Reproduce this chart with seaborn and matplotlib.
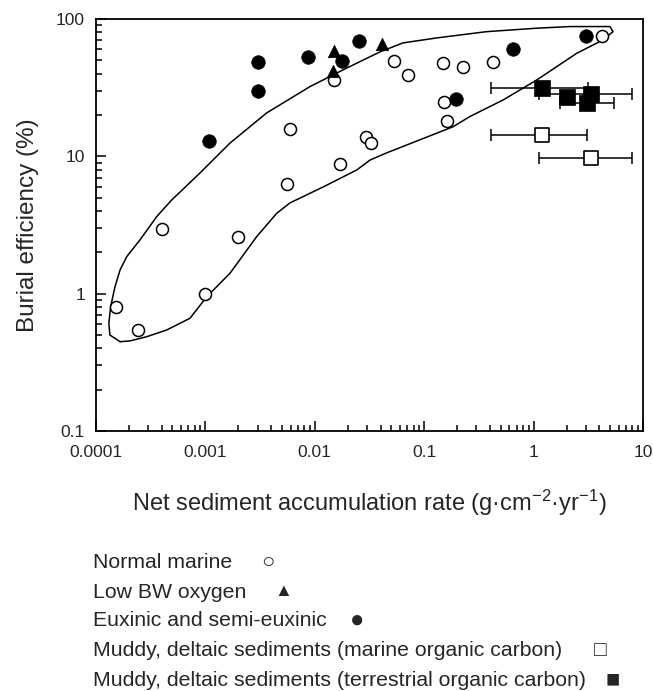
import numpy as np
import pandas as pd
import matplotlib
matplotlib.use("Agg")
import matplotlib.pyplot as plt
from matplotlib.ticker import LogLocator, FixedLocator, FixedFormatter, NullFormatter
import seaborn as sns

# -----------------------------
# data
# -----------------------------
normal_x = [1.52e-4, 2.4e-4, 4.0e-4, 0.00099, 0.002, 0.0059, 0.00557, 0.0151, 0.0171,
            0.0294, 0.0325, 0.053, 0.0706, 0.149, 0.152, 0.1615, 0.225, 0.426, 4.19]
normal_y = [0.80, 0.54, 2.97, 0.99, 2.58, 15.8, 6.3, 35.8, 8.8,
            13.9, 12.6, 49.8, 38.8, 47.6, 25.0, 18.0, 44.8, 49.0, 75.3]

lowbw_x = [0.0149, 0.0147, 0.041]
lowbw_y = [58.9, 41.7, 65.5]

euxinic_x = [0.00108, 0.00303, 0.00303, 0.00873, 0.0178, 0.0252, 0.196, 0.649, 3.01]
euxinic_y = [12.9, 48.7, 30.1, 52.7, 49.8, 69.7, 26.1, 60.3, 75.3]

# muddy deltaic, marine organic carbon (open squares) with x ranges
delta_mar_x = [1.19, 3.33]
delta_mar_y = [14.2, 9.7]
delta_mar_lo = [0.41, 1.12]
delta_mar_hi = [3.10, 7.98]

# muddy deltaic, terrestrial organic carbon (solid squares); nan = no range drawn
delta_ter_x = [1.20, 2.01, 3.33, 3.05]
delta_ter_y = [31.3, 27.2, 28.5, 24.5]
delta_ter_lo = [0.41, np.nan, 1.12, 1.74]
delta_ter_hi = [3.12, np.nan, 7.98, 5.43]

# envelope around normal marine sediments (closed outline)
env_x = [1.66e-4, 1.34e-4, 1.31e-4, 1.36e-4, 1.49e-4, 1.66e-4, 1.91e-4, 2.52e-4, 3.59e-4,
         4.92e-4, 8.93e-4, 1.68e-3, 3.63e-3, 9.04e-3, 0.0181, 0.0394, 0.064, 0.130, 0.373,
         1.07, 2.15, 4.99, 5.32, 4.31, 2.48, 1.07, 0.525, 0.262, 0.183, 0.0915, 0.0454,
         0.032, 0.0242, 0.0119, 5.93e-3, 4.49e-3, 2.94e-3, 1.68e-3, 1.03e-3, 7.23e-4,
         4.43e-4, 2.91e-4, 2.05e-4]
env_y = [0.447, 0.50, 0.61, 0.80, 1.12, 1.49, 1.86, 2.46, 3.64,
         4.81, 7.57, 12.5, 20.7, 32.2, 42.6, 57.6, 67.0, 72.8, 80.9,
         85.7, 88.1, 88.1, 80.9, 70.4, 56.3, 36.0, 25.7, 19.5, 16.4, 13.2, 10.6,
         9.4, 7.96, 5.98, 4.58, 3.85, 2.60, 1.41, 0.95, 0.662,
         0.544, 0.486, 0.453]

x_ticks = [0.0001, 0.001, 0.01, 0.1, 1, 10]
x_tick_labels = ["0.0001", "0.001", "0.01", "0.1", "1", "10"]
y_ticks = [0.1, 1, 10, 100]
y_tick_labels = ["0.1", "1", "10", "100"]

legend_labels = [
    "Normal marine",
    "Low BW oxygen",
    "Euxinic and semi-euxinic",
    "Muddy, deltaic sediments (marine organic carbon)",
    "Muddy, deltaic sediments (terrestrial organic carbon)",
]
legend_symbols = ["\u25cb", "\u25b2", "\u25cf", "\u25a1", "\u25a0"]


# -----------------------------
# style
# -----------------------------
sns.set_style("white")
plt.rcParams["font.family"] = ["Liberation Sans", "DejaVu Sans"]
plt.rcParams["mathtext.fontset"] = "custom"
plt.rcParams["mathtext.rm"] = "Liberation Sans"
plt.rcParams["mathtext.it"] = "Liberation Sans"
plt.rcParams["axes.edgecolor"] = "black"
plt.rcParams["axes.linewidth"] = 1.3

fig = plt.figure(figsize=(6.53, 6.91), dpi=100)
ax = fig.add_axes([96 / 653, 1 - 431 / 691, (643 - 96) / 653, (431 - 19) / 691])

# envelope
ax.plot(env_x + env_x[:1], env_y + env_y[:1], color="black", lw=1.1, zorder=1)

pts = pd.concat([
    pd.DataFrame({"x": normal_x, "y": normal_y, "group": "normal"}),
    pd.DataFrame({"x": lowbw_x, "y": lowbw_y, "group": "lowbw"}),
    pd.DataFrame({"x": euxinic_x, "y": euxinic_y, "group": "euxinic"}),
], ignore_index=True)

sns.scatterplot(data=pts[pts.group == "normal"], x="x", y="y", marker="o", s=75,
                facecolor="white", edgecolor="black", linewidth=1.1, ax=ax, zorder=3)
sns.scatterplot(data=pts[pts.group == "lowbw"], x="x", y="y", marker="^", s=80,
                color="black", edgecolor="black", linewidth=0.5, ax=ax, zorder=3)
sns.scatterplot(data=pts[pts.group == "euxinic"], x="x", y="y", marker="o", s=95,
                color="black", edgecolor="black", linewidth=0.5, ax=ax, zorder=3)

# error bars for the deltaic samples
for xs, ys, lo, hi in [(delta_mar_x, delta_mar_y, delta_mar_lo, delta_mar_hi),
                       (delta_ter_x, delta_ter_y, delta_ter_lo, delta_ter_hi)]:
    xs, ys, lo, hi = map(np.asarray, (xs, ys, lo, hi))
    ok = ~np.isnan(lo)
    ax.errorbar(xs[ok], ys[ok], xerr=[xs[ok] - lo[ok], hi[ok] - xs[ok]], fmt="none",
                ecolor="black", elinewidth=1.1, capsize=4, capthick=1.1, zorder=2)

sns.scatterplot(x=delta_mar_x, y=delta_mar_y, marker="s", s=110, facecolor="white",
                edgecolor="black", linewidth=1.2, ax=ax, zorder=4)
sns.scatterplot(x=delta_ter_x, y=delta_ter_y, marker="s", s=120, color="black",
                edgecolor="black", linewidth=0.5, ax=ax, zorder=4)

ax.set_xscale("log")
ax.set_yscale("log")
ax.set_xlim(1e-4, 10)
ax.set_ylim(0.1, 100)

ax.xaxis.set_major_locator(FixedLocator(x_ticks))
ax.xaxis.set_major_formatter(FixedFormatter(x_tick_labels))
ax.yaxis.set_major_locator(FixedLocator(y_ticks))
ax.yaxis.set_major_formatter(FixedFormatter(y_tick_labels))
ax.xaxis.set_minor_locator(LogLocator(base=10, subs=np.arange(2, 10)))
ax.yaxis.set_minor_locator(LogLocator(base=10, subs=np.arange(2, 10)))
ax.xaxis.set_minor_formatter(NullFormatter())
ax.yaxis.set_minor_formatter(NullFormatter())

ax.tick_params(which="both", direction="in", top=False, right=False,
               bottom=True, left=True, color="black", width=1.1)
ax.tick_params(which="major", length=7, labelsize=12.5)
ax.tick_params(axis="x", which="major", pad=10)
ax.tick_params(axis="y", which="major", pad=8)
ax.tick_params(which="minor", length=4)

ax.set_xlabel("Net sediment accumulation rate (g\u00b7cm$^{-2}$\u00b7yr$^{-1}$)", fontsize=17, labelpad=20)
ax.set_ylabel("Burial efficiency (%)", fontsize=17.5, labelpad=12)

# legend as text rows with symbols after each label
row_y = [562, 592, 621, 651, 680]
sym_x = [268, 283, 357, 600, 613]
sym_size = [16, 13, 17, 15, 17]
for lab, sym, ry, sx, ss in zip(legend_labels, legend_symbols, row_y, sym_x, sym_size):
    fig.text(92.7 / 653, 1 - ry / 691, lab, fontsize=15.3, ha="left", va="center")
    fig.text(sx / 653, 1 - ry / 691, sym, fontsize=ss, ha="center", va="center")

fig.savefig("out.png", dpi=100)
